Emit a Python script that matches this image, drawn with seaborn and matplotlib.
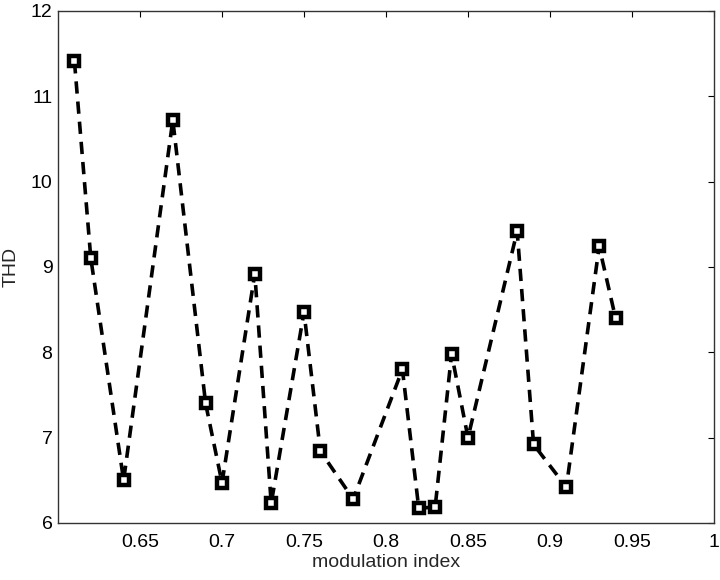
import matplotlib
matplotlib.use("Agg")
import matplotlib.pyplot as plt
import seaborn as sns
import pandas as pd

# values
modulation_index = [0.61, 0.62, 0.64, 0.67, 0.69, 0.70, 0.72, 0.73, 0.75, 0.76, 0.78,
                    0.81, 0.82, 0.83, 0.84, 0.85, 0.88, 0.89, 0.91, 0.93, 0.94]
thd = [11.41, 9.10, 6.50, 10.72, 7.40, 6.47, 8.92, 6.23, 8.47, 6.84, 6.28,
       7.80, 6.17, 6.19, 7.98, 7.00, 9.42, 6.92, 6.42, 9.24, 8.40]
x_ticks = [0.65, 0.7, 0.75, 0.8, 0.85, 0.9, 0.95, 1.0]
x_tick_labels = ["0.65", "0.7", "0.75", "0.8", "0.85", "0.9", "0.95", "1"]
y_ticks = [6, 7, 8, 9, 10, 11, 12]

df = pd.DataFrame({"modulation index": modulation_index, "THD": thd})

sns.set_style("white")
plt.rcParams["font.family"] = ["Liberation Sans", "DejaVu Sans"]

fig = plt.figure(figsize=(7.2, 5.8), dpi=100)
ax = fig.add_axes([0.0806, 0.0983, 0.911, 0.883])

sns.lineplot(data=df, x="modulation index", y="THD", ax=ax, color="black",
             linestyle=(0, (3.4, 2.2)), linewidth=2.6, marker="s", markersize=6.8,
             markerfacecolor="white", markeredgecolor="black", markeredgewidth=3.2)

ax.set_xlim(0.6, 1.0)
ax.set_ylim(6, 12)
ax.set_xticks(x_ticks)
ax.set_xticklabels(x_tick_labels)
ax.set_yticks(y_ticks)
ax.tick_params(direction="in", top=True, right=True, length=4, width=0.8,
               labelsize=14, colors="black")
ax.tick_params(axis="x", pad=8)
ax.tick_params(axis="y", pad=4)
ax.set_xlabel("modulation index", fontsize=14, labelpad=2)
ax.set_ylabel("THD", fontsize=14, labelpad=8)
for s in ax.spines.values():
    s.set_color("#333333")
    s.set_linewidth(1.0)

fig.savefig("out.png", dpi=100)
